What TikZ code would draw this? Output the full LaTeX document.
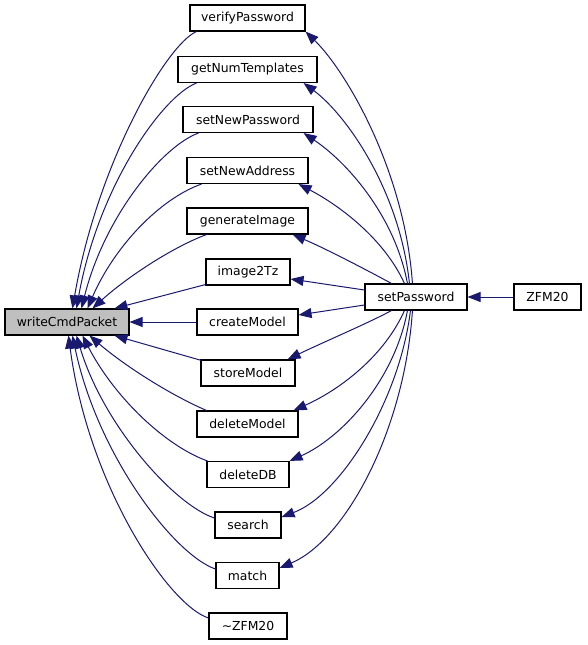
\documentclass[tikz,border=0pt]{standalone}
\usepackage{fontspec}
\setmainfont{DejaVu Sans}
\usetikzlibrary{arrows.meta}
\definecolor{edgeblue}{HTML}{191970}
\definecolor{boxgray}{HTML}{BFBFBF}
\tikzset{
  fn/.style={draw=black, line width=1.1pt, fill=white, minimum height=26pt, inner sep=0pt, font=\fontsize{12.4}{14}\selectfont},
  edge/.style={draw=edgeblue, line width=1pt, -{Triangle[length=13pt,width=10pt]}}
}
\begin{document}
\begin{tikzpicture}[x=1pt,y=-1pt]
\useasboundingbox (0,0) rectangle (587,645);
\node[fn, fill=boxgray, minimum width=124pt] (wcp) at (67,322) {writeCmdPacket};
\node[fn, minimum width=115pt] (vp) at (247.5,18) {verifyPassword};
\node[fn, minimum width=139pt] (gnt) at (247.5,69.5) {getNumTemplates};
\node[fn, minimum width=130pt] (snp) at (248,119.5) {setNewPassword};
\node[fn, minimum width=121pt] (sna) at (247.5,170.5) {setNewAddress};
\node[fn, minimum width=121pt] (gi) at (247.5,221) {generateImage};
\node[fn, minimum width=84pt] (i2t) at (248,272) {image2Tz};
\node[fn, minimum width=101pt] (cm) at (247.5,322) {createModel};
\node[fn, minimum width=94pt] (sm) at (248,373) {storeModel};
\node[fn, minimum width=101pt] (dm) at (247.5,424) {deleteModel};
\node[fn, minimum width=82pt] (ddb) at (248,474.5) {deleteDB};
\node[fn, minimum width=66pt] (se) at (248,525) {search};
\node[fn, minimum width=63pt] (ma) at (247.5,575.5) {match};
\node[fn, minimum width=78pt] (tz) at (248,626) {\char"007E ZFM20};
\node[fn, minimum width=102pt] (sp) at (416,297) {setPassword};
\node[fn, minimum width=67pt] (z) at (547.5,297) {ZFM20};
% middle -> writeCmdPacket
\draw[edge] ([xshift=7pt]vp.south west) .. controls +(-30,13) and +(25,-145) .. ([xshift=68pt]wcp.north west);
\draw[edge] ([xshift=19pt]gnt.south west) .. controls +(-34,13) and +(22,-122) .. ([xshift=72pt]wcp.north west);
\draw[edge] ([xshift=16pt]snp.south west) .. controls +(-36,13) and +(23,-92) .. ([xshift=77pt]wcp.north west);
\draw[edge] ([xshift=15pt]sna.south west) .. controls +(-42,15) and +(27,-62) .. ([xshift=83pt]wcp.north west);
\draw[edge] ([xshift=20pt]gi.south west) .. controls +(-37,14) and +(32,-29) .. ([xshift=88pt]wcp.north west);
\draw[edge] ([yshift=1pt]i2t.south west) -- ([xshift=110pt]wcp.north west);
\draw[edge] (cm.west) -- (wcp.east);
\draw[edge] ([xshift=1pt,yshift=-1pt]sm.north west) -- ([xshift=110pt]wcp.south west);
\draw[edge] ([xshift=10pt]dm.north west) .. controls +(-37,-16) and +(35,30) .. ([xshift=85pt]wcp.south west);
\draw[edge] ([xshift=1pt]ddb.north west) .. controls +(-42,-15) and +(32,62) .. ([xshift=78pt]wcp.south west);
\draw[edge] ([yshift=7pt]se.west) .. controls +(-40,-13) and +(27,90) .. ([xshift=72pt]wcp.south west);
\draw[edge] ([yshift=6.5pt]ma.west) .. controls +(-41,-14) and +(25,120) .. ([xshift=68pt]wcp.south west);
\draw[edge] ([yshift=8pt]tz.west) .. controls +(-40,-13) and +(20,150) .. ([xshift=64pt]wcp.south west);
% setPassword -> middle
\draw[edge] ([xshift=48pt]sp.north west) .. controls +(-8,-114) and +(40,39) .. (vp.south east);
\draw[edge] ([xshift=45pt]sp.north west) .. controls +(-10,-94) and +(42,31) .. ([xshift=-14pt]gnt.south east);
\draw[edge] ([xshift=43pt]sp.north west) .. controls +(-13,-69) and +(42,28) .. ([xshift=-10pt]snp.south east);
\draw[edge] ([xshift=40pt]sp.north west) .. controls +(-20,-44) and +(42,22) .. ([xshift=-10pt]sna.south east);
\draw[edge] ([xshift=27pt]sp.north west) .. controls +(-22,-12) and +(33,14) .. ([xshift=-16pt]gi.south east);
\draw[edge] ([yshift=7pt]sp.west) -- ([yshift=-7pt]i2t.east);
\draw[edge] ([yshift=-8pt]sp.west) -- ([yshift=7pt]cm.east);
\draw[edge] ([xshift=27pt]sp.south west) .. controls +(-22,12) and +(33,-16) .. ([xshift=-8pt]sm.north east);
\draw[edge] ([xshift=40pt]sp.south west) .. controls +(-20,45) and +(47,-21) .. ([xshift=-5pt]dm.north east);
\draw[edge] ([xshift=43pt]sp.south west) .. controls +(-13,70) and +(52,-23) .. (ddb.north east);
\draw[edge] ([xshift=46pt]sp.south west) .. controls +(-11,90) and +(59,-22) .. ([yshift=8pt]se.east);
\draw[edge] ([xshift=48pt]sp.south west) .. controls +(-8,120) and +(66,-28) .. ([yshift=7.5pt]ma.east);
\draw[edge] (z.west) -- (sp.east);
\end{tikzpicture}
\end{document}
